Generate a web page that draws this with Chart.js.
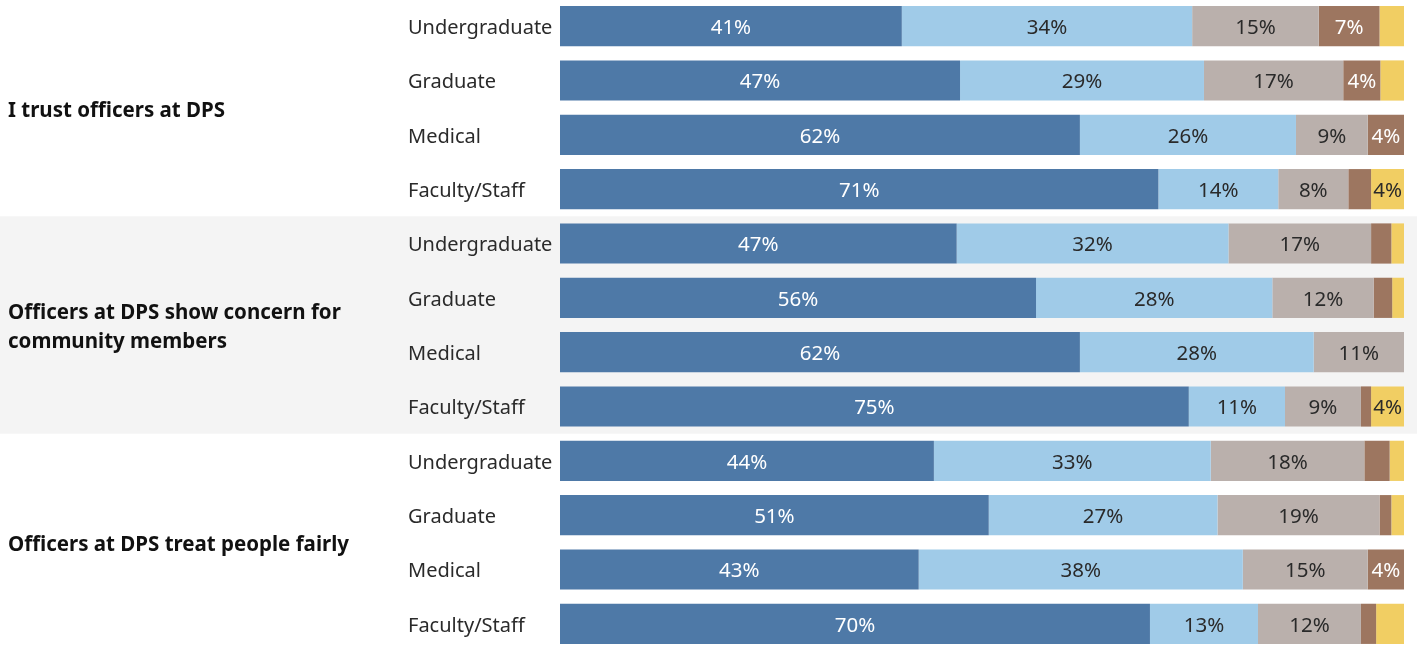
<!DOCTYPE html>
<html>
<head>
<meta charset="utf-8">
<script src="https://cdn.jsdelivr.net/npm/chart.js@4"></script>
<style>
    html, body { margin: 0; padding: 0; background: #fff; overflow: hidden; }
    #wrap { position: relative; width: 1417px; height: 652px; margin-top: -1px; }
</style>
</head>
<body>
<div id="wrap"><canvas id="surveyChart"></canvas></div>
<script>
// questions (one per group of 4 rows)
const questions = [
    ['I trust officers at DPS'],
    ['Officers at DPS show concern for', 'community members'],
    ['Officers at DPS treat people fairly']
];
const groups = ['Undergraduate', 'Graduate', 'Medical', 'Faculty/Staff'];
const categories = [...groups, ...groups, ...groups];

// share of answers, %
const stronglyAgree    = [40.5, 47.4, 61.6, 70.9, 47.0, 56.4, 61.6, 74.5, 44.3, 50.8, 42.5, 69.9];
const agree            = [34.4, 28.9, 25.6, 14.2, 32.2, 28.0, 27.7, 11.4, 32.8, 27.1, 38.4, 12.8];
const neutral          = [15.0, 16.5, 8.5, 8.3, 16.9, 12.0, 10.7, 9.0, 18.2, 19.2, 14.8, 12.2];
const disagree         = [7.2, 4.4, 4.3, 2.7, 2.4, 2.2, 0, 1.2, 3.0, 1.4, 4.3, 1.8];
const stronglyDisagree = [2.9, 2.8, 0, 3.9, 1.5, 1.4, 0, 3.9, 1.7, 1.5, 0, 3.3];

const FONT = '"Noto Sans", sans-serif';

// nền xám cho nhóm giữa + nhãn câu hỏi
const groupPlugin = {
    id: 'groups',
    beforeDraw(chart) {
        const {ctx} = chart;
        const y = chart.scales.y;
        const half = (y.getPixelForValue(1) - y.getPixelForValue(0)) / 2;
        ctx.save();
        ctx.fillStyle = '#f4f4f4';
        const top = y.getPixelForValue(4) - half;
        const bottom = y.getPixelForValue(7) + half;
        ctx.fillRect(0, top, chart.width, bottom - top);
        ctx.restore();
    },
    afterDraw(chart) {
        const {ctx} = chart;
        const y = chart.scales.y;
        ctx.save();
        ctx.fillStyle = '#111';
        ctx.font = 'bold 20.5px ' + FONT;
        ctx.textAlign = 'left';
        ctx.textBaseline = 'middle';
        questions.forEach((lines, g) => {
            const mid = (y.getPixelForValue(g * 4) + y.getPixelForValue(g * 4 + 3)) / 2 + 3;
            const lh = 29;
            lines.forEach((line, k) => {
                ctx.fillText(line, 8, mid + (k - (lines.length - 1) / 2) * lh);
            });
        });
        ctx.restore();
    }
};

// nhãn % trong thanh
const labelPlugin = {
    id: 'barLabels',
    afterDatasetsDraw(chart) {
        const {ctx} = chart;
        ctx.save();
        ctx.font = '20.5px ' + FONT;
        ctx.textAlign = 'center';
        ctx.textBaseline = 'middle';
        chart.data.datasets.forEach((ds, i) => {
            chart.getDatasetMeta(i).data.forEach((bar, j) => {
                const v = ds.data[j];
                if (v < 3.5) return;
                ctx.fillStyle = ds.labelColor;
                ctx.fillText(Math.round(v) + '%', (bar.x + bar.base) / 2, bar.y + 2);
            });
        });
        ctx.restore();
    }
};

new Chart(document.getElementById('surveyChart'), {
    type: 'bar',
    data: {
        labels: categories,
        datasets: [
            {label: 'Strongly agree', data: stronglyAgree, backgroundColor: '#4e79a7', labelColor: '#fff'},
            {label: 'Agree', data: agree, backgroundColor: '#a0cbe8', labelColor: '#2a2a2a'},
            {label: 'Neutral', data: neutral, backgroundColor: '#bab0ac', labelColor: '#2a2a2a'},
            {label: 'Disagree', data: disagree, backgroundColor: '#9d7660', labelColor: '#fff'},
            {label: 'Strongly disagree', data: stronglyDisagree, backgroundColor: '#f1ce63', labelColor: '#2a2a2a'}
        ]
    },
    options: {
        indexAxis: 'y',
        responsive: true,
        maintainAspectRatio: false,
        animation: false,
        layout: {padding: {left: 408, right: 13, top: 0, bottom: 0}},
        datasets: {bar: {barPercentage: 1, categoryPercentage: 0.74, borderWidth: 0}},
        scales: {
            x: {stacked: true, min: 0, max: 100, display: false},
            y: {
                stacked: true,
                grid: {display: false},
                border: {display: false},
                ticks: {crossAlign: 'far', padding: 0, labelOffset: 2, color: '#2a2a2a', font: {family: FONT, size: 20}},
                afterFit: scale => {
                    scale.width = 152;
                    scale.paddingTop = 0;
                    scale.paddingBottom = 0;
                }
            }
        },
        plugins: {legend: {display: false}, tooltip: {enabled: false}}
    },
    plugins: [groupPlugin, labelPlugin]
});
</script>
</body>
</html>
